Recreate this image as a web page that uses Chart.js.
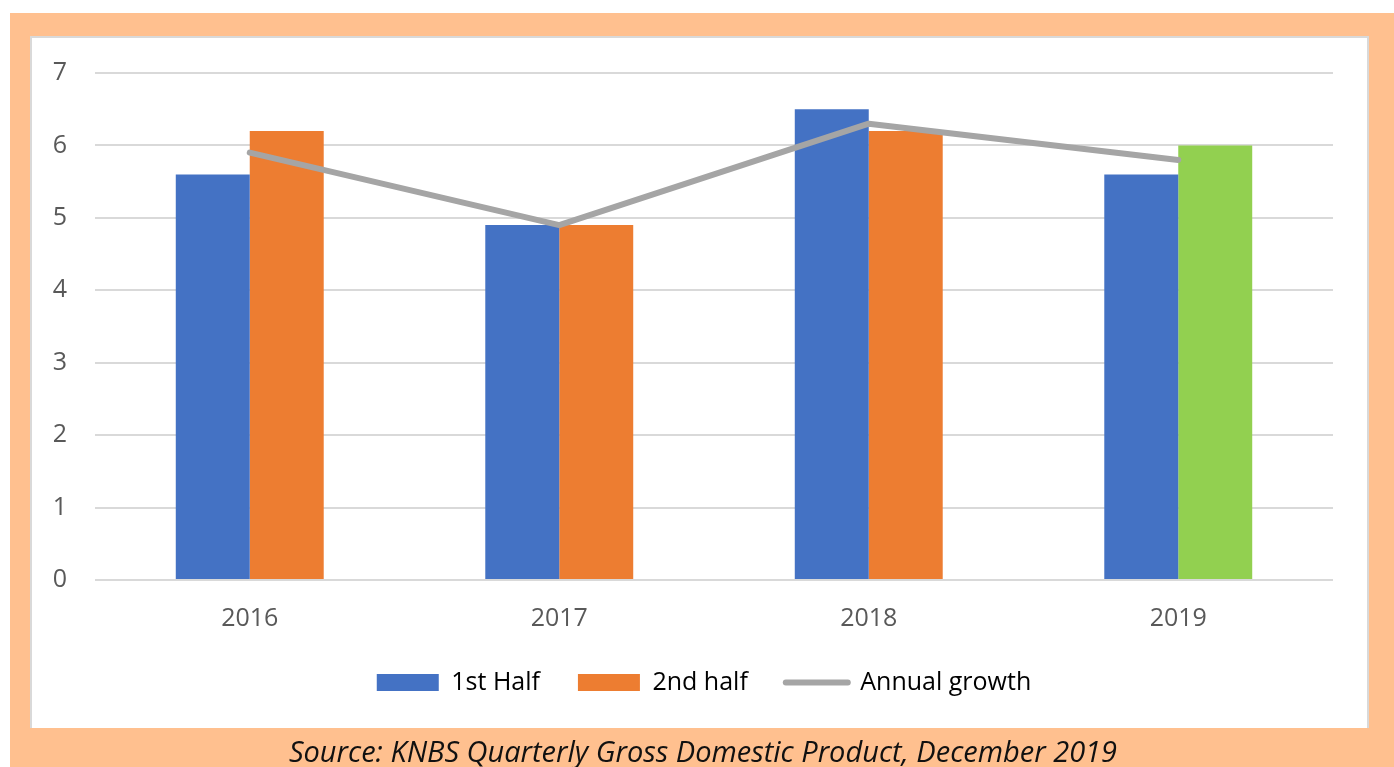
<!DOCTYPE html>
<html>
<head>
<meta charset="utf-8">
<script src="https://cdn.jsdelivr.net/npm/chart.js@4"></script>
<style>
  html, body { margin: 0; padding: 0; background: #fff; }
  body { width: 1394px; height: 767px; position: relative; overflow: hidden; }
  .frame { position: absolute; left: 10px; top: 13px; width: 1384px; height: 754px; background: #FFC08F; }
  .panel {
    position: absolute; left: 30px; top: 36px; width: 1339px; height: 692px;
    background: #fff; box-sizing: border-box;
    border-left: 2px solid #d9d9d9; border-top: 2px solid #d9d9d9; border-right: 2px solid #d9d9d9;
  }
  #gdpChart { position: absolute; left: 0; top: 0; }
  .source {
    position: absolute; left: 6px; width: 1394px; top: 731px;
    text-align: center; font-family: "Open Sans", sans-serif; font-style: italic;
    font-size: 29px; color: #111; white-space: nowrap;
  }
</style>
</head>
<body>
<div class="frame"></div>
<div class="panel"></div>
<canvas id="gdpChart" width="1394" height="767"></canvas>
<div class="source">Source: KNBS Quarterly Gross Domestic Product, December 2019</div>
<script>
  const years = ['2016', '2017', '2018', '2019'];
  const firstHalf = [5.6, 4.9, 6.5, 5.6];
  const secondHalf = [6.2, 4.9, 6.2, 6.0];
  const annualGrowth = [5.9, 4.9, 6.3, 5.8];
  const yTicks = [0, 1, 2, 3, 4, 5, 6, 7];

  const BLUE = '#4472C4';
  const ORANGE = '#ED7D31';
  const GREEN = '#92D050';
  const GREY = '#A5A5A5';
  const TEXT = '#595959';
  const GRID = '#D9D9D9';

  // last year's second half is shown in green in the original
  const secondHalfColors = years.map((y, i) => (i === years.length - 1 ? GREEN : ORANGE));

  const font = { family: '"Open Sans", sans-serif', size: 25 };

  // the original legend sits a bit right of the chart's centre
  const legendNudge = {
    id: 'legendNudge',
    afterLayout(chart) {
      chart.legend.left += 20;
      chart.legend.right += 20;
    }
  };

  new Chart(document.getElementById('gdpChart'), {
    data: {
      labels: years,
      datasets: [
        {
          type: 'line',
          label: 'Annual growth',
          data: annualGrowth,
          borderColor: GREY,
          backgroundColor: GREY,
          borderWidth: 6,
          borderCapStyle: 'round',
          borderJoinStyle: 'round',
          pointRadius: 0,
          tension: 0,
          order: 0
        },
        {
          type: 'bar',
          label: '1st Half',
          data: firstHalf,
          backgroundColor: BLUE,
          categoryPercentage: 0.478,
          barPercentage: 1,
          order: 1
        },
        {
          type: 'bar',
          label: '2nd half',
          data: secondHalf,
          backgroundColor: secondHalfColors,
          categoryPercentage: 0.478,
          barPercentage: 1,
          order: 1
        }
      ]
    },
    options: {
      responsive: false,
      animation: false,
      devicePixelRatio: 1,
      layout: { padding: { left: 35, right: 61, top: 73, bottom: 62 } },
      plugins: {
        tooltip: { enabled: false },
        legend: {
          position: 'bottom',
          labels: {
            color: TEXT,
            font: font,
            usePointStyle: true,
            pointStyleWidth: 62,
            boxHeight: 17,
            padding: 38,
            generateLabels() {
              return [
                { text: '1st Half', fillStyle: BLUE, strokeStyle: BLUE, lineWidth: 0, pointStyle: 'rect', datasetIndex: 1 },
                { text: '2nd half', fillStyle: ORANGE, strokeStyle: ORANGE, lineWidth: 0, pointStyle: 'rect', datasetIndex: 2 },
                { text: 'Annual growth', fillStyle: GREY, strokeStyle: GREY, lineWidth: 6, lineCap: 'round', pointStyle: 'line', datasetIndex: 0 }
              ];
            }
          }
        }
      },
      scales: {
        x: {
          grid: { display: false, drawTicks: false },
          border: { display: false },
          ticks: { color: TEXT, font: font, padding: 24 },
          afterFit(scale) { scale.height = 52; }
        },
        y: {
          min: 0,
          max: 7,
          afterBuildTicks(scale) { scale.ticks = yTicks.map((v) => ({ value: v })); },
          grid: { color: GRID, lineWidth: 2, drawTicks: false },
          border: { display: false },
          ticks: { color: TEXT, font: font, padding: 28 },
          afterFit(scale) { scale.width = 60; }
        }
      }
    },
    plugins: [legendNudge]
  });
</script>
</body>
</html>
